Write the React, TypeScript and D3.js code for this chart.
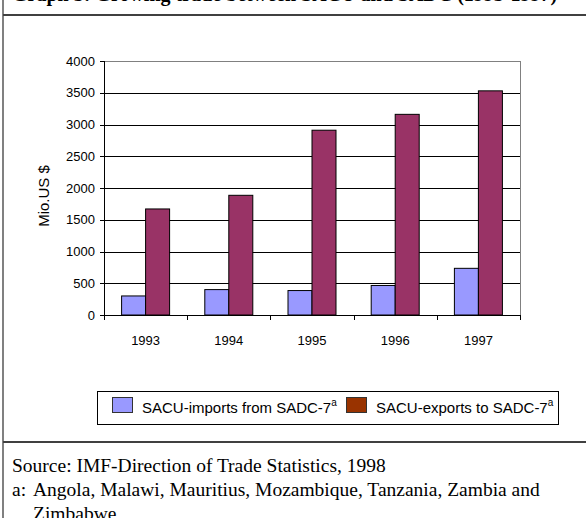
import React from "react";
import * as d3 from "d3";

const years = ["1993", "1994", "1995", "1996", "1997"];
const importsFromSADC = [300, 400, 385, 465, 735];
const exportsToSADC = [1670, 1885, 2910, 3160, 3530];
const yTicks = [0, 500, 1000, 1500, 2000, 2500, 3000, 3500, 4000];
const seriesNames = ["SACU-imports from SADC-7", "SACU-exports to SADC-7"];
const barColors = ["#9999FF", "#993366"];
const legendColors = ["#9999FF", "#993300"];

const W = 586;
const H = 518;
const plot = { left: 104, right: 520, top: 61, bottom: 315 };

export default function App() {
  const x = d3.scaleBand<string>().domain(years).range([plot.left, plot.right]).padding(0);
  const groupW = 48;
  const inner = d3
    .scaleBand<string>()
    .domain(["imp", "exp"])
    .range([(x.bandwidth() - groupW) / 2, (x.bandwidth() + groupW) / 2])
    .padding(0);
  const y = d3.scaleLinear().domain([0, 4000]).range([plot.bottom, plot.top]);
  const sans = "'Liberation Sans', Arial, sans-serif";
  const serif = "'Liberation Serif', 'Times New Roman', serif";
  const series = [importsFromSADC, exportsToSADC];
  const keys = ["imp", "exp"];
  const boundaries = [...years.map((d) => x(d) as number), plot.right];

  return (
    <svg
      width={W}
      height={H}
      style={{ position: "absolute", left: 0, top: 0, background: "#fff" }}
    >
      <rect x={0} y={0} width={W} height={H} fill="#fff" />
      {/* title (cut off at top) */}
      <text x={12} y={1} fontFamily={serif} fontWeight="bold" fontSize={20} fill="#000">
        Graph 3: Growing trade between SACU and SADC (1993-1997)
      </text>
      {/* frame lines */}
      <line x1={3} x2={3} y1={0} y2={H} stroke="#808080" strokeWidth={2} />
      <line x1={3} x2={W} y1={15} y2={15} stroke="#404040" strokeWidth={2} />
      <line x1={3} x2={W} y1={442} y2={442} stroke="#404040" strokeWidth={2} />

      {/* gridlines */}
      {yTicks.slice(1).map((t) => (
        <line
          key={"g" + t}
          x1={plot.left}
          x2={plot.right}
          y1={Math.round(y(t)) + 0.5}
          y2={Math.round(y(t)) + 0.5}
          stroke={t === 4000 ? "#808080" : "#000"}
          strokeWidth={1}
        />
      ))}
      {/* right border of plot */}
      <line x1={plot.right + 0.5} x2={plot.right + 0.5} y1={plot.top} y2={plot.bottom} stroke="#808080" />

      {/* bars */}
      {years.map((yr, i) =>
        series.map((s, j) => (
          <rect
            key={yr + j}
            x={(x(yr) as number) + (inner(keys[j]) as number)}
            y={y(s[i])}
            width={inner.bandwidth()}
            height={plot.bottom - y(s[i])}
            fill={barColors[j]}
            stroke="#000"
            strokeWidth={1}
          />
        ))
      )}

      {/* axes */}
      <line x1={plot.left + 0.5} x2={plot.left + 0.5} y1={plot.top} y2={plot.bottom} stroke="#000" />
      <line x1={plot.left} x2={plot.right + 1} y1={plot.bottom + 0.5} y2={plot.bottom + 0.5} stroke="#000" />
      {yTicks.map((t) => (
        <g key={"yt" + t}>
          <line
            x1={plot.left - 4}
            x2={plot.left}
            y1={Math.round(y(t)) + 0.5}
            y2={Math.round(y(t)) + 0.5}
            stroke="#000"
          />
          <text
            x={95}
            y={y(t)}
            dy="0.35em"
            textAnchor="end"
            fontFamily={sans}
            fontSize={13}
            fill="#000"
          >
            {t}
          </text>
        </g>
      ))}
      {boundaries.map((b, i) => (
        <line
          key={"xt" + i}
          x1={Math.round(b) + 0.5}
          x2={Math.round(b) + 0.5}
          y1={plot.bottom}
          y2={plot.bottom + 5}
          stroke="#000"
        />
      ))}
      {years.map((yr) => (
        <text
          key={"xl" + yr}
          x={(x(yr) as number) + x.bandwidth() / 2}
          y={345}
          textAnchor="middle"
          fontFamily={sans}
          fontSize={13}
          fill="#000"
        >
          {yr}
        </text>
      ))}
      <text
        transform={`translate(49,${(plot.top + plot.bottom) / 2 + 8}) rotate(-90)`}
        textAnchor="middle"
        fontFamily={sans}
        fontSize={15}
        fill="#000"
      >
        Mio.US $
      </text>

      {/* legend */}
      <rect x={97.5} y={391.5} width={461} height={33} fill="#fff" stroke="#000" />
      {seriesNames.map((n, i) => {
        const sx = [112, 346][i];
        return (
          <g key={"lg" + i}>
            <rect x={sx + 0.5} y={397.5} width={20} height={15} fill={legendColors[i]} stroke="#333" />
            <text x={sx + 30} y={413} fontFamily={sans} fontSize={15} fill="#000">
              {n}
              <tspan fontSize={10} dy={-7}>a</tspan>
            </text>
          </g>
        );
      })}

      {/* footnotes */}
      <text x={12} y={472} fontFamily={serif} fontSize={19.5} fill="#000">
        Source: IMF-Direction of Trade Statistics, 1998
      </text>
      <text x={12} y={496} fontFamily={serif} fontSize={19.5} fill="#000">
        a:
      </text>
      <text x={33} y={496} fontFamily={serif} fontSize={19.5} fill="#000">
        Angola, Malawi, Mauritius, Mozambique, Tanzania, Zambia and
      </text>
      <text x={33} y={520} fontFamily={serif} fontSize={19.5} fill="#000">
        Zimbabwe
      </text>
    </svg>
  );
}
